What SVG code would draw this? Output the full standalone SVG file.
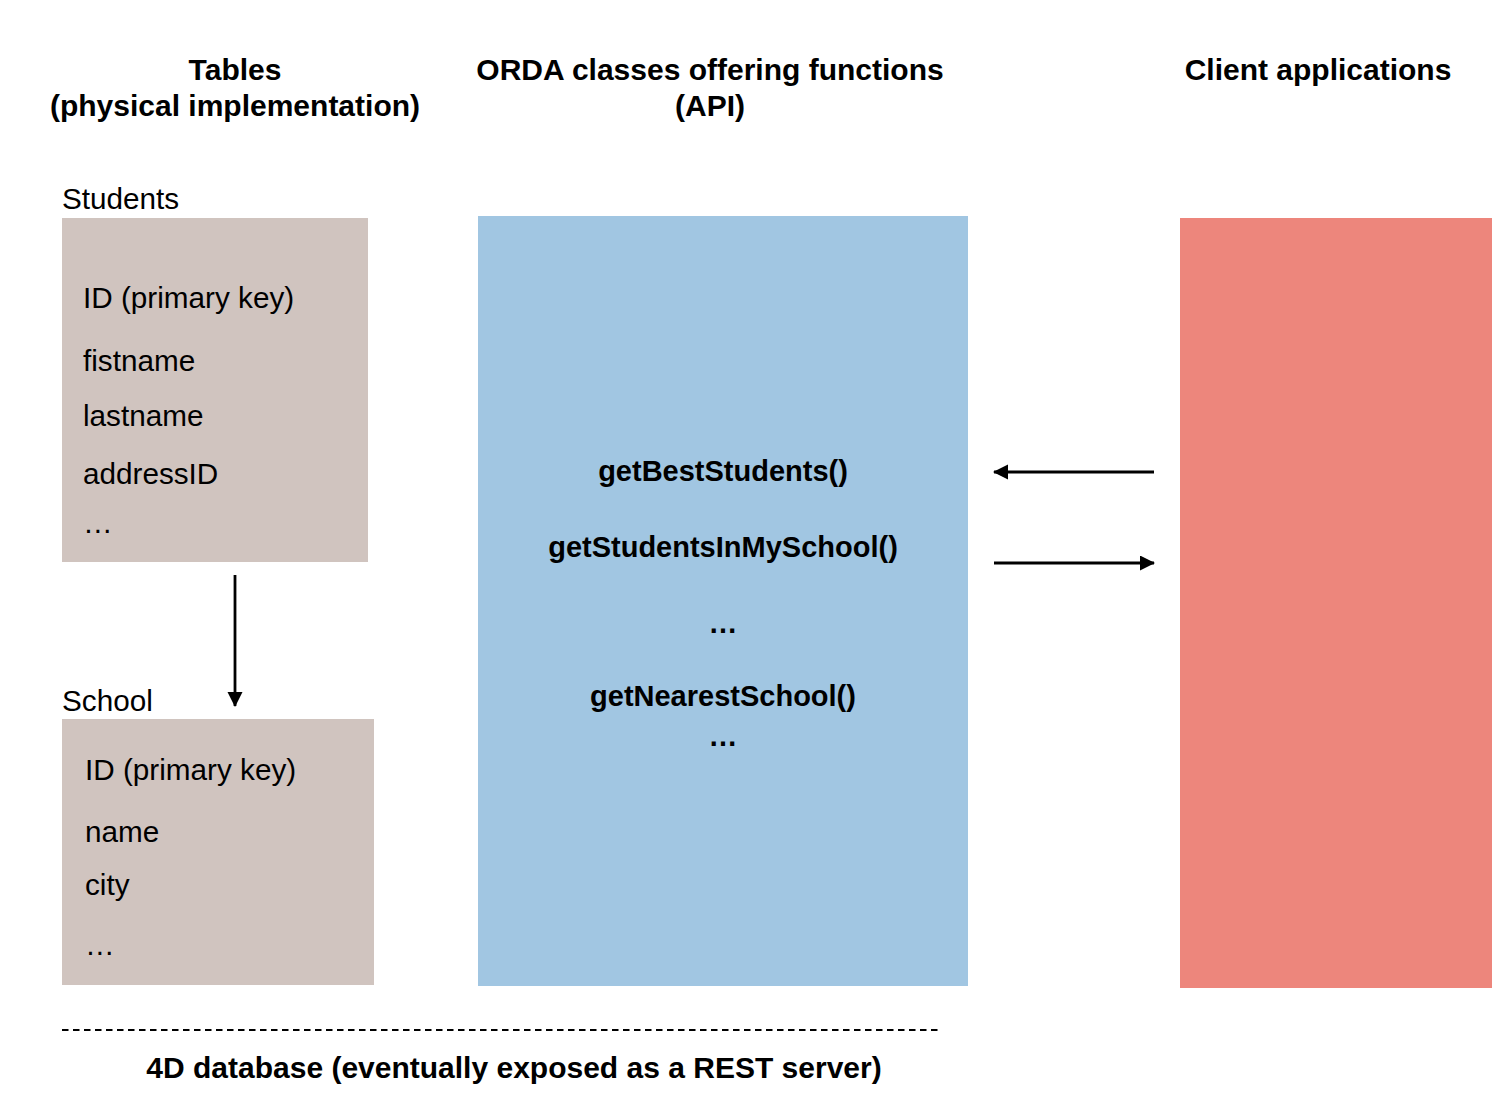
<svg xmlns="http://www.w3.org/2000/svg" width="1494" height="1106" viewBox="0 0 1494 1106">
<style>
.h{font-family:"Liberation Sans",Arial,sans-serif;font-size:30px;font-weight:bold;fill:#000}
.t{font-family:"Liberation Sans",Arial,sans-serif;font-size:29.7px;fill:#000}
.f{font-family:"Liberation Sans",Arial,sans-serif;font-size:29px;font-weight:bold;fill:#000;text-anchor:middle}
.c{text-anchor:middle}
.tbl{fill:#D0C4BF}
.conn{stroke:#000;stroke-width:2.8;fill:none;marker-end:url(#ah)}
</style>
<defs>
<marker id="ah" markerUnits="userSpaceOnUse" markerWidth="16" markerHeight="16" refX="14" refY="7.5" orient="auto">
<path d="M0,0 L15,7.5 L0,15 Z" fill="#000"/>
</marker>
</defs>
<rect width="1494" height="1106" fill="#fff"/>
<g id="headers">
<text class="h c" x="235" y="80">Tables</text>
<text class="h c" x="235" y="116">(physical implementation)</text>
<text class="h c" x="710" y="80">ORDA classes offering functions</text>
<text class="h c" x="710" y="116">(API)</text>
<text class="h c" x="1318" y="80">Client applications</text>
</g>
<g id="students">
<text class="t" x="62" y="209">Students</text>
<rect class="tbl" x="62" y="218" width="306" height="344"/>
<text class="t" x="83" y="308">ID (primary key)</text>
<text class="t" x="83" y="371">fistname</text>
<text class="t" x="83" y="426">lastname</text>
<text class="t" x="83" y="484">addressID</text>
<text class="t" x="83" y="533">…</text>
</g>
<g id="school">
<text class="t" x="62" y="711">School</text>
<rect class="tbl" x="62" y="719" width="312" height="266"/>
<text class="t" x="85" y="780">ID (primary key)</text>
<text class="t" x="85" y="842">name</text>
<text class="t" x="85" y="895">city</text>
<text class="t" x="85" y="955">…</text>
</g>
<g id="orda">
<rect x="478" y="216" width="490" height="770" fill="#A1C6E2"/>
<text class="f" x="723" y="481">getBestStudents()</text>
<text class="f" x="723" y="557">getStudentsInMySchool()</text>
<text class="f" x="723" y="633">…</text>
<text class="f" x="723" y="706">getNearestSchool()</text>
<text class="f" x="723" y="746">…</text>
</g>
<g id="clients">
<rect x="1180" y="218" width="312" height="770" fill="#ED867C"/>
</g>
<g id="connectors">
<line class="conn" x1="235" y1="575" x2="235" y2="706"/>
<line class="conn" x1="1154" y1="472" x2="994" y2="472"/>
<line class="conn" x1="994" y1="563" x2="1154" y2="563"/>
</g>
<g id="boundary">
<line x1="62" y1="1030" x2="942" y2="1030" stroke="#000" stroke-width="2.2" stroke-dasharray="6.5 4.5"/>
<text class="h c" x="514" y="1078">4D database (eventually exposed as a REST server)</text>
</g>
</svg>
